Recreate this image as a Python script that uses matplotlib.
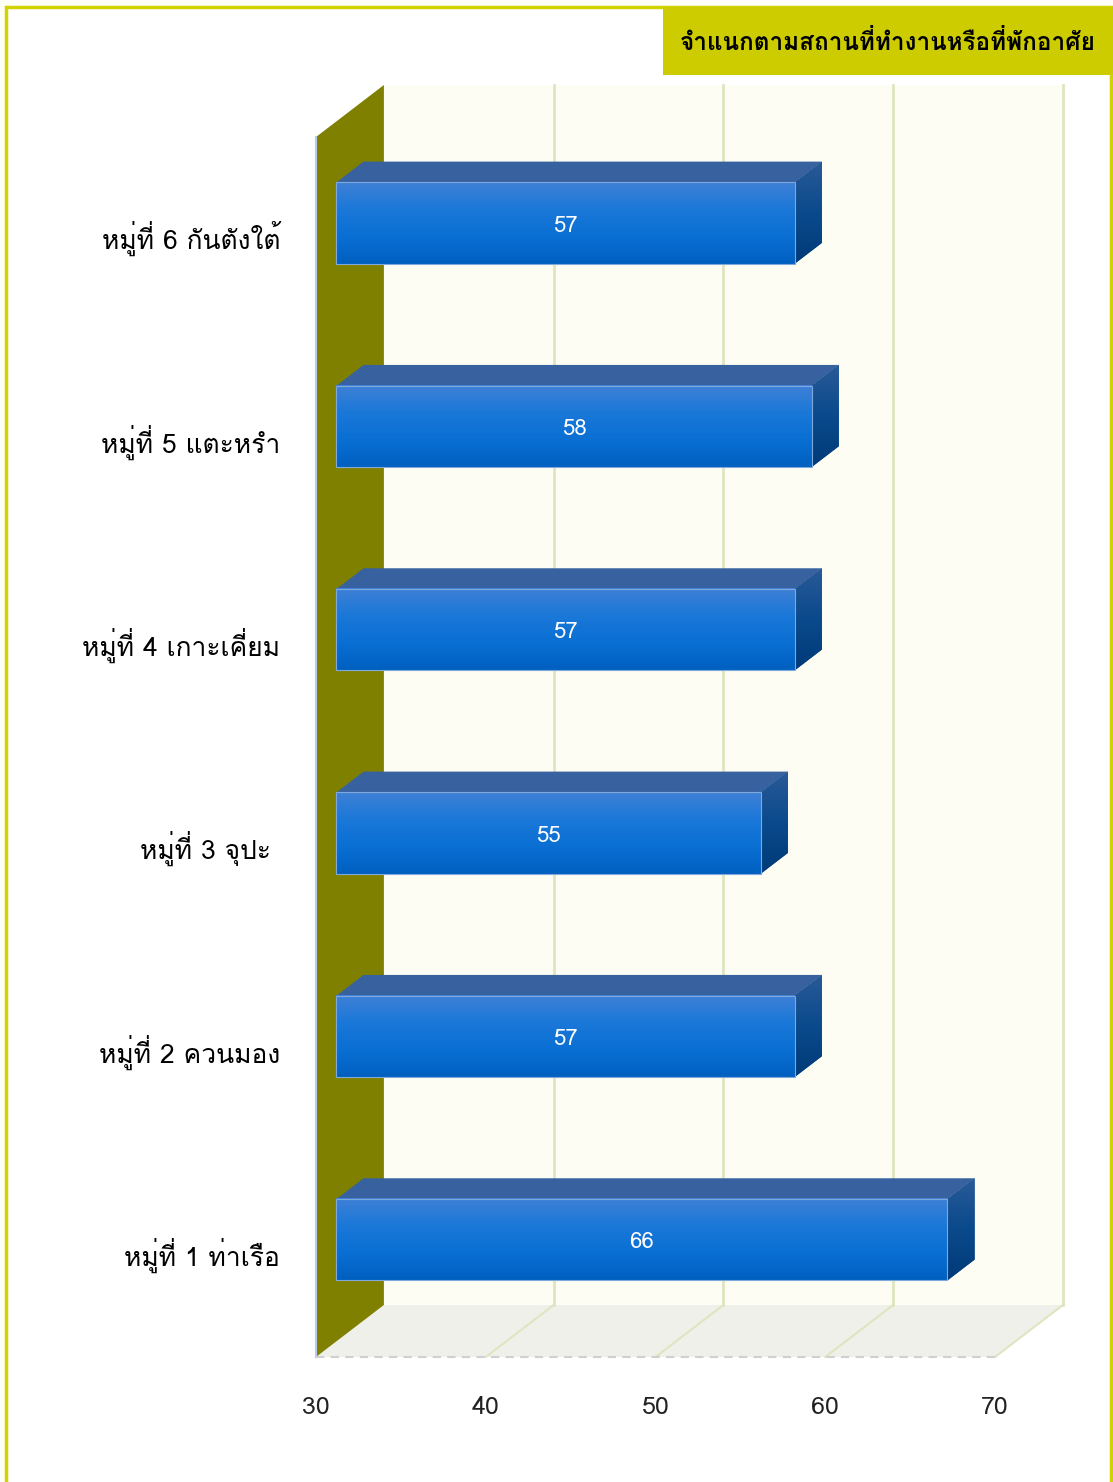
import numpy as np
import matplotlib
matplotlib.use('Agg')
import matplotlib.pyplot as plt
from matplotlib import font_manager
from matplotlib.ft2font import FT2Font
from matplotlib.patches import Polygon, Rectangle
from matplotlib.colors import LinearSegmentedColormap

# data
categories = ['หมู่ที่ 1 ท่าเรือ', 'หมู่ที่ 2 ควนมอง', 'หมู่ที่ 3 จุปะ ', 'หมู่ที่ 4 เกาะเคี่ยม', 'หมู่ที่ 5 แตะหรำ', 'หมู่ที่ 6 กันตังใต้']
values = [66, 57, 55, 57, 58, 57]
xticks = [30, 40, 50, 60, 70]
title = 'จำแนกตามสถานที่ทำงานหรือที่พักอาศัย'


def find_thai_fonts():
    # หาฟอนต์ที่มีตัวอักษรไทย
    found = []
    for f in font_manager.fontManager.ttflist:
        try:
            if ord('ก') in FT2Font(f.fname).get_charmap() and f.name not in found:
                found.append(f.name)
        except Exception:
            pass
    return found


thai = find_thai_fonts()
plt.rcParams['font.family'] = thai + ['DejaVu Sans']

W, H = 1113, 1482
fig = plt.figure(figsize=(W / 100, H / 100), dpi=100)
fig.patch.set_facecolor('#fffff8')

# กรอบรูป
fig.add_artist(Rectangle((6 / W, -0.01), (1111 - 6) / W, (H - 7) / H + 0.01, transform=fig.transFigure,
                         facecolor='white', edgecolor='#d2d200', lw=2.5, zorder=-10))
# กล่องหัวเรื่อง
fig.add_artist(Rectangle((663 / W, (H - 75) / H), (W - 663) / W, 68 / H, transform=fig.transFigure,
                         facecolor='#cccc00', edgecolor='none'))
fig.text(888 / W, (H - 42) / H, title, ha='center', va='center', fontsize=17.5, fontweight='bold', color='black')

# แกนหน้า (front plane)
ax = fig.add_axes([316 / W, (H - 1357) / H, (995 - 316) / W, (1357 - 137) / H])
ax.set_zorder(2)
ax.patch.set_alpha(0)
ax.axis('off')

dx, dy = 4.0, 52 / 203.33  # ความลึก 3 มิติ
xmin, xmax = 30, 70
n = len(categories)

def poly(pts, z=1, **kw):
    p = Polygon(pts, closed=True, clip_on=False, zorder=z, **kw)
    ax.add_patch(p)
    return p

# ผนังหลัง
poly([(xmin + dx, dy), (xmax + dx, dy), (xmax + dx, n + dy), (xmin + dx, n + dy)], facecolor='#fdfdf4', edgecolor='none')
# พื้น
poly([(xmin, 0), (xmax, 0), (xmax + dx, dy), (xmin + dx, dy)], facecolor='#f0f0ea', edgecolor='none')
# ผนังซ้าย
poly([(xmin, 0), (xmin + dx, dy), (xmin + dx, n + dy), (xmin, n)], facecolor='#808000', edgecolor='none')
ax.plot([xmin, xmin], [0, n], color='#b8cce4', lw=1.5, clip_on=False, zorder=2)

# เส้นกริด
for t in xticks[1:]:
    ax.plot([t + dx, t + dx], [dy, n + dy], color='#dde6c0', lw=2, clip_on=False, zorder=2)
    ax.plot([t, t + dx], [0, dy], color='#dde6c0', lw=1.5, clip_on=False, zorder=2)
ax.plot([xmin, xmax], [0, 0], color='#d0d0d0', lw=1.5, ls=(0, (4, 3)), clip_on=False, zorder=2)

# ไล่สี
grad = np.linspace(0, 1, 100).reshape(-1, 1)
cm_front = LinearSegmentedColormap.from_list('f', ['#0060c0', '#0a6fd3', '#1a78d8', '#3f80d6'])
cm_side = LinearSegmentedColormap.from_list('s', ['#003a78', '#0a4a8c', '#2a5a98'])

z0, z1 = 0.3, 0.7
bh = 0.2
for i, (cat, v) in enumerate(zip(categories, values)):
    c = i + 0.5
    x0, x1 = xmin + z0 * dx, v + z0 * dx
    yb, yt = c - bh + z0 * dy, c + bh + z0 * dy
    ddx, ddy = (z1 - z0) * dx, (z1 - z0) * dy
    # ด้านบน
    poly([(x0, yt), (x1, yt), (x1 + ddx, yt + ddy), (x0 + ddx, yt + ddy)], z=3, facecolor='#38629f', edgecolor='none')
    # ด้านขวา
    side = poly([(x1, yb), (x1, yt), (x1 + ddx, yt + ddy), (x1 + ddx, yb + ddy)], z=3, facecolor='#0a4a8c', edgecolor='none')
    im = ax.imshow(grad, extent=(x1, x1 + ddx, yb, yt + ddy), cmap=cm_side, origin='lower', aspect='auto', zorder=3.5)
    im.set_clip_path(side)
    # ด้านหน้า
    ax.imshow(grad, extent=(x0, x1, yb, yt), cmap=cm_front, origin='lower', aspect='auto', clip_on=False, zorder=4)
    ax.add_patch(Rectangle((x0, yb), x1 - x0, yt - yb, facecolor='none', edgecolor='#7fa8dc', lw=0.8, clip_on=False, zorder=4.5))
    ax.text((x0 + x1) / 2, (yb + yt) / 2 - 0.015, str(v), ha='center', va='center', color='white', fontsize=16, zorder=5)
    # ชื่อหมู่บ้าน
    ax.text(xmin - 2.12, c, cat, ha='right', va='center', fontsize=19, color='black')

for t in xticks:
    ax.text(t, -0.246, str(t), ha='center', va='center', fontsize=18, color='#222222')

ax.set_xlim(30, 70)
ax.set_ylim(0, 6)

plt.savefig('out.png', dpi=100)
